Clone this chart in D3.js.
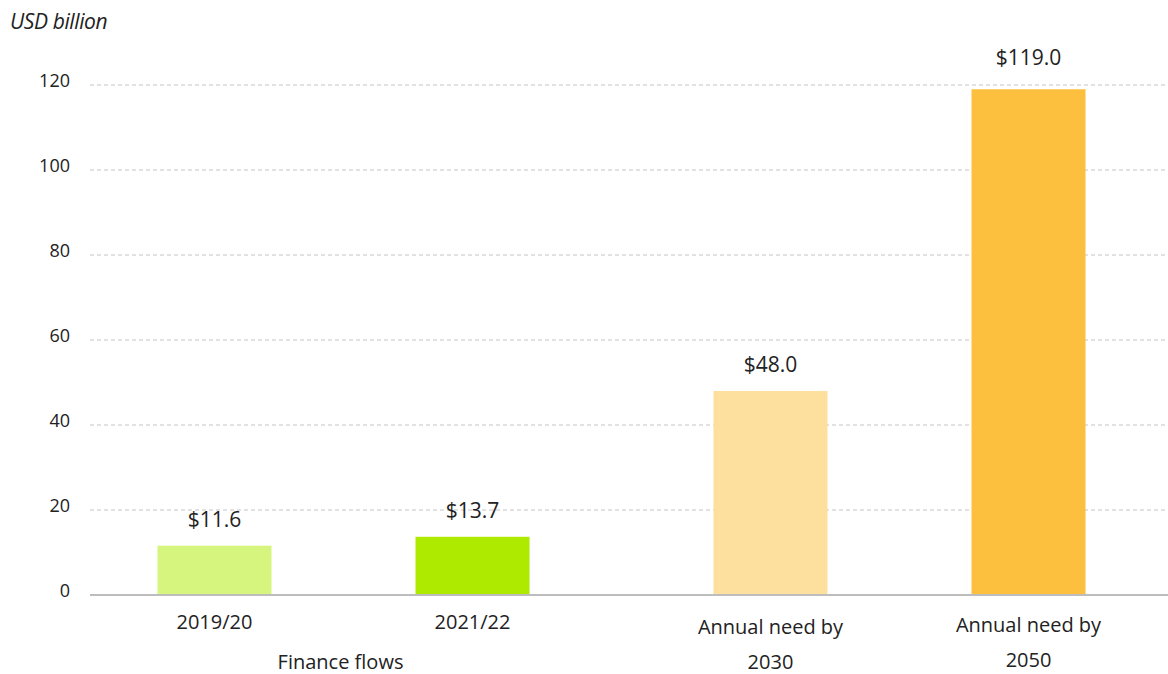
<!DOCTYPE html>
<html><head><meta charset="utf-8">
<script src="https://cdn.jsdelivr.net/npm/d3@7"></script>
<style>
body{margin:0;background:#fff;}
text{font-family:"Open Sans",Lato,sans-serif;fill:#222;}
</style></head>
<body><svg id="c" width="1168" height="674"></svg>
<script>
const groups = ["Finance flows", ""];
const categories = ["2019/20", "2021/22", "Annual need by 2030", "Annual need by 2050"];
const categoryGroup = ["Finance flows", "Finance flows", "", ""];
const categoryLines = [["2019/20"], ["2021/22"], ["Annual need by", "2030"], ["Annual need by", "2050"]];
const values = [11.6, 13.7, 48.0, 119.0];
const colors = ["#d6f57f", "#aeea00", "#fddf9e", "#fdbf3e"];
const yTicks = [0, 20, 40, 60, 80, 100, 120];
const yTitle = "USD billion";

const svg = d3.select("#c");
const plotLeft = 90, plotRight = 1168, y0 = 595;

const y = d3.scaleLinear().domain([0, 120]).range([y0, 85]);
const xGroup = d3.scaleBand().domain(groups).range([65.5, 1177.5]).padding(0);
const xInner = d3.scaleBand().domain([0, 1]).range([0, 516]).paddingInner(1 - 114 / 258).paddingOuter(0.279);

function bx(i) {
  const g = categoryGroup[i];
  const idx = categoryGroup.slice(0, i).filter(d => d === g).length;
  const gc = xGroup(g) + xGroup.bandwidth() / 2;
  return gc - 258 + xInner(idx);
}

// y-axis title
svg.append("text").attr("x", 10).attr("y", 29).attr("font-size", 21)
  .attr("font-style", "italic").attr("letter-spacing", -0.4).text(yTitle);

// y axis labels
const yAxis = d3.axisLeft(y).tickValues(yTicks).tickSize(0).tickPadding(0);
const ga = svg.append("g").attr("transform", `translate(70,0)`).call(yAxis);
ga.select(".domain").remove();
ga.selectAll("text").attr("font-size", 18).attr("fill", "#222")
  .style("font-family", "'Open Sans', sans-serif").attr("dy", "0.1em").attr("text-anchor", "end");

// grid
svg.append("g").selectAll("line").data(yTicks.filter(d => d > 0)).join("line")
  .attr("x1", plotLeft).attr("x2", plotRight)
  .attr("y1", d => y(d)).attr("y2", d => y(d))
  .attr("stroke", "#c4c4c4").attr("stroke-width", 1).attr("stroke-dasharray", "4,3");

// bars
svg.append("g").selectAll("rect").data(values).join("rect")
  .attr("x", (d, i) => bx(i)).attr("width", xInner.bandwidth())
  .attr("y", d => y(d)).attr("height", d => y0 - y(d))
  .attr("fill", (d, i) => colors[i]);

// baseline
svg.append("line").attr("x1", plotLeft).attr("x2", plotRight)
  .attr("y1", y0).attr("y2", y0).attr("stroke", "#bdbdbd").attr("stroke-width", 2);

// value labels (labels of bars reaching the top gridline sit above it)
svg.append("g").selectAll("text").data(values).join("text")
  .attr("x", (d, i) => bx(i) + xInner.bandwidth() / 2)
  .attr("y", d => {
    const lab = y(d) - 19;
    return y(d) < y(115) ? Math.min(lab, y(120) - 20) : lab;
  })
  .attr("text-anchor", "middle").attr("font-size", 21)
  .text(d => "$" + d.toFixed(1));

// category labels
categoryLines.forEach((lines, i) => {
  lines.forEach((ln, j) => {
    svg.append("text")
      .attr("x", bx(i) + xInner.bandwidth() / 2)
      .attr("y", (lines.length > 1 ? (i === 3 ? 632 : 634) : 629) + j * 35)
      .attr("text-anchor", "middle").attr("font-size", 20).text(ln);
  });
});

// group label
svg.append("text").attr("x", xGroup("Finance flows") + xGroup.bandwidth() / 2 - 3)
  .attr("y", 669).attr("text-anchor", "middle").attr("font-size", 20).text(groups[0]);
</script></body></html>
